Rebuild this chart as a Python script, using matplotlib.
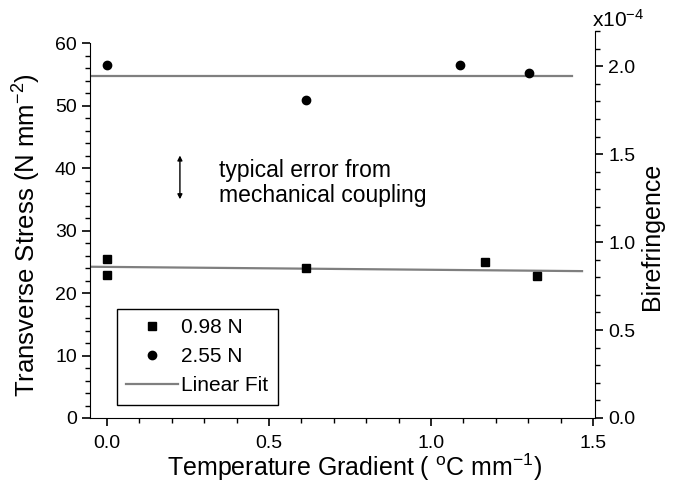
import matplotlib.pyplot as plt
from matplotlib.ticker import MultipleLocator, FormatStrFormatter
from matplotlib.lines import Line2D

plt.rcParams['font.family'] = ['Liberation Sans', 'DejaVu Sans']

# data
sq_x = [0.0, 0.0, 0.615, 1.165, 1.327]
sq_y = [25.4, 22.9, 24.0, 24.9, 22.7]
circ_x = [0.0, 0.614, 1.09, 1.302]
circ_y = [56.5, 50.9, 56.5, 55.2]

# linear fit end points
fit_lo_x = [-0.05, 1.466]
fit_lo_y = [24.2, 23.5]
fit_hi_x = [-0.05, 1.435]
fit_hi_y = [54.7, 54.7]

xticks = [0.0, 0.5, 1.0, 1.5]
yticks_left = [0, 10, 20, 30, 40, 50, 60]
yticks_right = [0.0, 0.5, 1.0, 1.5, 2.0]

fig = plt.figure(figsize=(6.81, 4.84), dpi=100)
ax = fig.add_axes([90 / 681, 1 - 418 / 484, 505 / 681, 387 / 484])
ax2 = ax.twinx()

gray = '#7f7f7f'
ax.plot(fit_hi_x, fit_hi_y, color=gray, lw=1.6, zorder=2)
ax.plot(fit_lo_x, fit_lo_y, color=gray, lw=1.6, zorder=2)
ax.plot(sq_x, sq_y, 's', color='black', ms=6, zorder=3)
ax.plot(circ_x, circ_y, 'o', color='black', ms=6, zorder=3)

ax.set_xlim(-0.0525, 1.506)
ax.set_ylim(0, 61.92)
ax.set_xticks(xticks)
ax.set_yticks(yticks_left)
ax.xaxis.set_minor_locator(MultipleLocator(0.1))
ax.yaxis.set_minor_locator(MultipleLocator(2))
ax.xaxis.set_major_formatter(FormatStrFormatter('%.1f'))
ax.spines['top'].set_visible(False)
ax.spines['right'].set_visible(False)
ax.spines['left'].set_bounds(0, 60)
ax.tick_params(which='major', direction='out', length=6, width=1.2, labelsize=14)
ax.tick_params(which='minor', direction='out', length=3.5, width=1)
ax.tick_params(axis='x', which='major', pad=6)
ax.set_xlabel('Temperature Gradient ( $\\mathregular{^{o}}$C mm$\\mathregular{^{-1}}$)',
              fontsize=18)
ax.xaxis.set_label_coords(0.525, -0.086)
ax.set_ylabel('Transverse Stress (N mm$\\mathregular{^{-2}}$)', fontsize=18.5)
ax.yaxis.set_label_coords(-0.093, 0.473)

ax2.set_ylim(0, 2.2)
ax2.set_yticks(yticks_right)
ax2.yaxis.set_minor_locator(MultipleLocator(0.1))
ax2.yaxis.set_major_formatter(FormatStrFormatter('%.1f'))
for s in ['top', 'left', 'bottom']:
    ax2.spines[s].set_visible(False)
ax2.tick_params(which='major', direction='out', length=6, width=1.2, labelsize=14)
ax2.tick_params(which='minor', direction='out', length=3.5, width=1)
ax2.set_ylabel('Birefringence', fontsize=18)
ax2.yaxis.set_label_coords(1.09, 0.47)
ax2.text(0.995, 1.0, 'x10$\\mathregular{^{-4}}$', transform=ax2.transAxes,
         fontsize=15, ha='left', va='bottom')

ax.annotate('', xy=(0.225, 42.0), xytext=(0.225, 35.0),
            arrowprops=dict(arrowstyle='<|-|>', color='black', lw=1,
                            mutation_scale=7, shrinkA=0, shrinkB=0))
ax.text(0.345, 37.6, 'typical error from\nmechanical coupling', fontsize=16.5,
        va='center', ha='left', linespacing=1.15)

handles = [Line2D([], [], ls='', marker='s', color='black', ms=6),
           Line2D([], [], ls='', marker='o', color='black', ms=6),
           Line2D([], [], color=gray, lw=1.6)]
leg = ax.legend(handles, ['0.98 N', '2.55 N', 'Linear Fit'], loc='lower left',
                bbox_to_anchor=(0.053, 0.034), fontsize=15, fancybox=False,
                edgecolor='black', framealpha=1, borderpad=0.45,
                handlelength=2.5, handletextpad=0.15, labelspacing=0.48,
                borderaxespad=0)
leg.get_frame().set_linewidth(1)

fig.savefig('out.png', dpi=100)
